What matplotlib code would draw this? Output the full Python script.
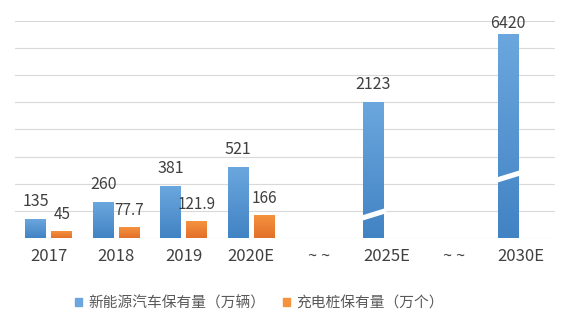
import numpy as np
import matplotlib
matplotlib.use("Agg")
import matplotlib.pyplot as plt
from matplotlib.colors import LinearSegmentedColormap
from matplotlib.patches import Polygon

plt.rcParams['font.family'] = ['Noto Sans CJK SC', 'DejaVu Sans']
plt.rcParams['font.weight'] = 'light'

# data
categories = ['2017', '2018', '2019', '2020E', '~ ~', '2025E', '~ ~', '2030E']
ev_values = [135, 260, 381, 521, None, 2123, None, 6420]
# the 2025E and 2030E bars are drawn on a broken axis, shorter than their values
ev_drawn = [135, 260, 381, 521, 0, 1000, 0, 1500]
pile_values = [45, 77.7, 121.9, 166, None, None, None, None]
break_at = [None, None, None, None, None, 172, None, 452]
legend_labels = ['新能源汽车保有量（万辆）', '充电桩保有量（万个）']

blue_top, blue_bottom = '#6ba7de', '#4283c4'
orange_top, orange_bottom = '#f5923e', '#e2702a'
text_color = '#404040'
grid_color = '#d9d9d9'

fig = plt.figure(figsize=(5.71, 3.25), dpi=100)
ax = fig.add_axes([15 / 571, 1 - 238 / 325, 540 / 571, 217.3 / 325])

x = np.arange(len(categories))
width = 0.31
off = 0.195
ymax = 1600


def gradient_bars(bars, top, bottom):
    cmap = LinearSegmentedColormap.from_list('g', [bottom, top])
    grad = np.linspace(0, 1, 100).reshape(-1, 1)
    for b in bars:
        h = b.get_height()
        if h <= 0:
            continue
        x0 = b.get_x()
        ax.imshow(grad, extent=[x0, x0 + b.get_width(), 0, h], origin='lower',
                  aspect='auto', cmap=cmap, zorder=3)


ev_h = [v if v else 0 for v in ev_drawn]
pile_h = [v if v else 0 for v in pile_values]
b1 = ax.bar(x - off, ev_h, width, color=blue_top, zorder=2, label=legend_labels[0])
b2 = ax.bar(x + off, pile_h, width, color=orange_top, zorder=2, label=legend_labels[1])
gradient_bars(b1, blue_top, blue_bottom)
gradient_bars(b2, orange_top, orange_bottom)

# white slanted breaks on the compressed bars
slope = 60
thick = 40
for i, c in enumerate(break_at):
    if c is None:
        continue
    x0 = x[i] - off - width / 2 - 0.04
    x1 = x[i] - off + width / 2 + 0.04
    yl = c - slope / 2
    yr = c + slope / 2
    poly = Polygon([[x0, yl - thick / 2], [x1, yr - thick / 2],
                    [x1, yr + thick / 2], [x0, yl + thick / 2]],
                   closed=True, facecolor='white', edgecolor='none', zorder=4)
    ax.add_patch(poly)

# value labels
gap = 133
for i in range(len(categories)):
    if ev_values[i] is not None:
        ly = min(ev_drawn[i] + gap, 1583)
        ax.text(x[i] - off, ly, f'{ev_values[i]:g}', ha='center', va='center',
                fontsize=11.5, color=text_color, zorder=5)
    if pile_values[i] is not None:
        ax.text(x[i] + off, pile_values[i] + 125, f'{pile_values[i]:g}', ha='center',
                va='center', fontsize=11, color=text_color, zorder=5)

ax.set_xlim(-0.5, 7.5)
ax.set_ylim(0, ymax)
ax.set_yticks(np.arange(0, ymax + 1, 200))
ax.yaxis.grid(True, color=grid_color, linewidth=0.8, zorder=0)
ax.set_axisbelow(True)
ax.tick_params(axis='y', left=False, labelleft=False)
ax.set_xticks(x)
ax.set_xticklabels(categories, fontsize=12, color=text_color)
ax.tick_params(axis='x', length=0, pad=7)
for s in ax.spines.values():
    s.set_visible(False)

leg = fig.legend(handles=[b1, b2], labels=legend_labels, loc='center',
                 bbox_to_anchor=(259 / 571, 1 - 303 / 325), ncol=2, frameon=False,
                 fontsize=10.6, handlelength=0.5, handleheight=0.5,
                 handletextpad=0.4, columnspacing=1.2)
for t in leg.get_texts():
    t.set_color('#595959')
for h, c in zip(leg.legend_handles, [blue_top, orange_top]):
    h.set_color(c)

fig.savefig('out.png', dpi=100)
